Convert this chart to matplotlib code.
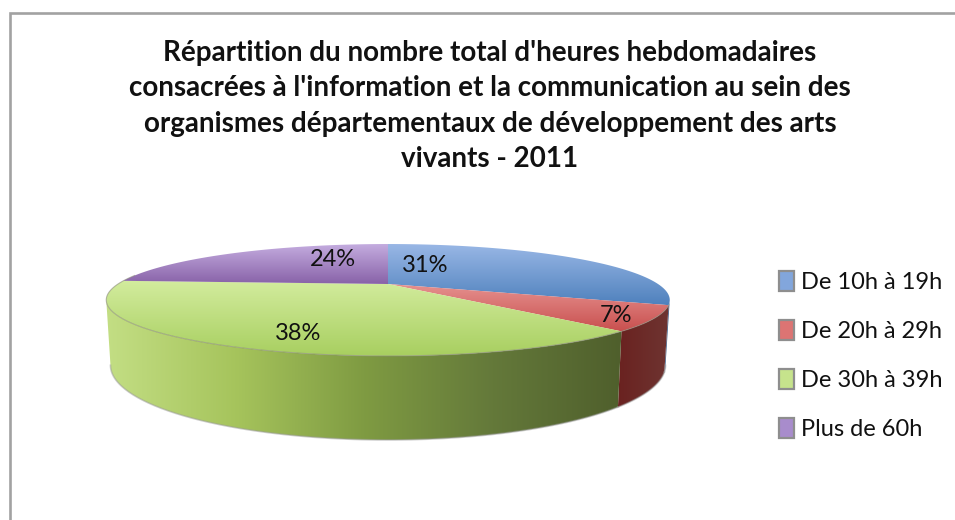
import numpy as np
import matplotlib
matplotlib.use("Agg")
import matplotlib.pyplot as plt
from matplotlib.colors import LinearSegmentedColormap
from matplotlib.patches import Patch, Polygon

categories = ["De 10h à 19h", "De 20h à 29h", "De 30h à 39h", "Plus de 60h"]
values = [31, 7, 38, 24]
pct_labels = ["31%", "7%", "38%", "24%"]
title = ("Répartition du nombre total d'heures hebdomadaires\n"
         "consacrées à l'information et la communication au sein des\n"
         "organismes départementaux de développement des arts\n"
         "vivants - 2011")

top_colors = [("#9ab8e6", "#4f81bd"), ("#e69290", "#c9504f"),
              ("#d3ec9e", "#a8cf60"), ("#c4acdf", "#8862a8")]
side_colors = [("#3f5f88", "#3f5f88"), ("#6a2220", "#6e3431"),
               ("#c3de84", "#a6c45c", "#7f9b42", "#64793a", "#4f5f2c"),
               ("#6a4f88", "#6a4f88")]
legend_colors = ["#82a6dc", "#dc7473", "#c6e38c", "#a88ccc"]
label_xy = [(425, 265), (616, 316), (298, 333), (333, 260)]

plt.rcParams["font.family"] = ["Lato", "DejaVu Sans"]
W, H = 955, 520
CX, CY, A, B, K, D, BOTTOM_X = 388, 284, 270, 51.4, 0.2857, 60, 0.985

fig = plt.figure(figsize=(W / 100, H / 100), dpi=100, facecolor="white")
ax = fig.add_axes([0, 0, 1, 1])


def rim(a0, a1, drop=False):
    """Perspective projection of a clockwise arc (degrees from 12 o'clock)."""
    t = np.radians(np.linspace(a0, a1, max(int(abs(a1 - a0) * 2), 2)))
    u, v = np.sin(t), np.cos(t)
    den = 1 + K * v
    if drop:
        return CX + BOTTOM_X * A * u / den, CY - B * v / den + D / den
    return CX + A * u / den, CY - B * v / den


def gradient(colors, clip, extent, horizontal=False, z=2):
    cmap = LinearSegmentedColormap.from_list("g", list(colors))
    g = np.linspace(0, 1, 256)
    arr = g[None, :] if horizontal else g[:, None]
    im = ax.imshow(arr, cmap=cmap, extent=extent, aspect="auto", zorder=z,
                   interpolation="bilinear", origin="upper")
    im.set_clip_path(clip)


edges = np.concatenate([[0], np.cumsum(values)]) * 360.0 / sum(values)
vis0 = np.degrees(np.arccos(-K))
vis1 = 360 - vis0

# Outer side wall
for i in range(len(values)):
    a0, a1 = max(edges[i], vis0), min(edges[i + 1], vis1)
    if a1 <= a0:
        continue
    xt, yt = rim(a0, a1)
    xb, yb = rim(a0, a1, drop=True)
    pts = np.r_[np.c_[xt, yt], np.c_[xb, yb][::-1]]
    poly = Polygon(pts, closed=True, fc="none", ec="none", transform=ax.transData)
    ax.add_patch(poly)
    ext = (pts[:, 0].min(), pts[:, 0].max(), pts[:, 1].max(), pts[:, 1].min())
    gradient(side_colors[i], poly, ext, horizontal=True)
    ax.plot(xb, yb, color="#9a9a9a", lw=1.2, alpha=0.5, zorder=3)

# Top faces
for i in range(len(values)):
    xr, yr = rim(edges[i], edges[i + 1])
    pts = np.r_[[[CX, CY]], np.c_[xr, yr]]
    poly = Polygon(pts, closed=True, fc="none", ec="none", transform=ax.transData)
    ax.add_patch(poly)
    ext = (pts[:, 0].min(), pts[:, 0].max(), pts[:, 1].max(), pts[:, 1].min())
    gradient(top_colors[i], poly, ext, z=4)

xr, yr = rim(edges[1], 280)
ax.plot(xr, yr, color="#8c8c7c", lw=0.8, alpha=0.6, zorder=5)

for txt, (x, y) in zip(pct_labels, label_xy):
    ax.text(x, y, txt, ha="center", va="center", fontsize=17, color="#111111", zorder=6)

ax.text(490, 106, title, ha="center", va="center", fontsize=20, fontweight="bold",
        color="#111111", linespacing=1.43, zorder=6)

handles = [Patch(facecolor=c, edgecolor="#8e8e8e", linewidth=1.6, label=l)
           for c, l in zip(legend_colors, categories)]
leg = ax.legend(handles=handles, loc="center left", bbox_to_anchor=(778.5 / W, 1 - 355.5 / H),
                bbox_transform=fig.transFigure, frameon=False, fontsize=17,
                handlelength=0.66, handleheight=0.95, handletextpad=0.3,
                labelspacing=1.13, borderpad=0, borderaxespad=0)
for t in leg.get_texts():
    t.set_color("#111111")

# Outer frame, running off the right and bottom of the picture
ax.plot([10, 10, W], [H, 12.5, 12.5], color="#a2a2a2", lw=1.9, zorder=1,
        solid_joinstyle="miter", solid_capstyle="butt")

ax.set_xlim(0, W)
ax.set_ylim(H, 0)
ax.axis("off")
fig.savefig("out.png", dpi=100, facecolor="white")
